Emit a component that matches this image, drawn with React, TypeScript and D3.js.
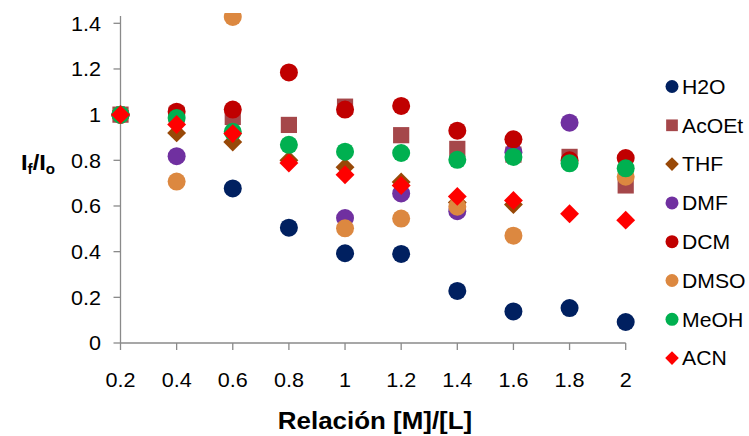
import React from "react";
import * as d3 from "d3";

// x values (Relación [M]/[L])
const ratios = [0.2, 0.4, 0.6, 0.8, 1.0, 1.2, 1.4, 1.6, 1.8, 2.0];

// If/Io per solvent (null = not visible in the picture)
const h2o = [1.0, null, 0.677, 0.505, 0.393, 0.39, 0.228, 0.138, 0.153, 0.092];
const acoet = [1.0, 1.0, 0.99, 0.955, 1.035, 0.91, 0.85, 0.825, 0.815, 0.69];
const thf = [1.0, 0.92, 0.88, 0.8, 0.77, 0.705, 0.615, 0.606, null, null];
const dmf = [1.0, 0.818, null, null, 0.547, 0.655, 0.577, 0.835, 0.965, null];
const dcm = [1.0, 1.013, 1.022, 1.185, 1.022, 1.038, 0.93, 0.892, 0.8, 0.81];
const dmso = [1.0, 0.707, 1.428, null, 0.502, 0.545, 0.597, 0.47, null, 0.728];
const meoh = [1.0, 0.985, 0.925, 0.868, 0.838, 0.832, 0.802, 0.815, 0.787, 0.765];
const acn = [1.0, 0.957, 0.917, 0.788, 0.737, 0.69, 0.642, 0.624, 0.566, 0.538];

const seriesNames = ["H2O", "AcOEt", "THF", "DMF", "DCM", "DMSO", "MeOH", "ACN"];
const seriesValues = [h2o, acoet, thf, dmf, dcm, dmso, meoh, acn];
const seriesColors = ["#002060", "#A5474A", "#984807", "#7030A0", "#C00000", "#DC8840", "#00B050", "#FF0000"];
const seriesShapes = ["circle", "square", "diamond", "circle", "circle", "circle", "circle", "diamond"];

const yTicks = [0, 0.2, 0.4, 0.6, 0.8, 1, 1.2, 1.4];
const xTicks = ratios;

const FONT = "'Liberation Sans', Arial, sans-serif";

// the original text is a bit wider than Liberation Sans, so stretch it a little
const Label = ({ x, y, sx = 1.08, children, ...rest }) => (
  <text transform={`translate(${x},${y}) scale(${sx},1)`} fill="#000" {...rest}>
    {children}
  </text>
);

const Marker = ({ shape, x, y, color, size }) => {
  if (shape === "circle") return <circle cx={x} cy={y} r={size} fill={color} />;
  if (shape === "square")
    return <rect x={x - size * 0.9} y={y - size * 0.9} width={size * 1.8} height={size * 1.8} fill={color} />;
  const s = size * 1.05;
  const p = d3.path();
  p.moveTo(x, y - s);
  p.lineTo(x + s, y);
  p.lineTo(x, y + s);
  p.lineTo(x - s, y);
  p.closePath();
  return <path d={p.toString()} fill={color} />;
};

export default function App() {
  const width = 749;
  const height = 436;

  const x = d3.scaleLinear().domain([0.2, 2]).range([120.5, 625.7]);
  const y = d3.scaleLinear().domain([0, 1.4]).range([343, 23.3]);
  const axisColor = "#8a8a8a";
  const fmt = d3.format("~g");

  const legendY = (i) => 86.5 + i * 38.8;

  return (
    <svg
      width={width}
      height={height}
      style={{ position: "absolute", left: 0, top: 0, background: "#fff" }}
      fontFamily={FONT}
    >
      <defs>
        <clipPath id="plot-clip">
          <rect x={100} y={13} width={560} height={350} />
        </clipPath>
      </defs>

      {/* axes */}
      <line x1={x(0.2)} x2={x(0.2)} y1={y(0)} y2={16} stroke={axisColor} strokeWidth={1.3} />
      <line x1={x(0.2)} x2={x(2)} y1={y(0)} y2={y(0)} stroke={axisColor} strokeWidth={1.3} />
      {yTicks.map((t) => (
        <g key={"y" + t}>
          <line x1={x(0.2) - 7} x2={x(0.2)} y1={y(t)} y2={y(t)} stroke={axisColor} strokeWidth={1.3} />
          <Label x={101} y={y(t)} dy="0.36em" textAnchor="end" fontSize={20}>
            {fmt(t)}
          </Label>
        </g>
      ))}
      {xTicks.map((t) => (
        <g key={"x" + t}>
          <line x1={x(t)} x2={x(t)} y1={y(0)} y2={y(0) + 7} stroke={axisColor} strokeWidth={1.3} />
          <Label x={x(t)} y={387} textAnchor="middle" fontSize={20}>
            {fmt(t)}
          </Label>
        </g>
      ))}

      {/* points */}
      <g clipPath="url(#plot-clip)">
        {seriesValues.map((vals, si) =>
          vals.map((v, i) =>
            v == null ? null : (
              <Marker
                key={si + "-" + i}
                shape={seriesShapes[si]}
                x={x(ratios[i])}
                y={y(v)}
                color={seriesColors[si]}
                size={9}
              />
            )
          )
        )}
      </g>

      {/* axis titles */}
      <Label x={375} y={429} textAnchor="middle" fontSize={24} fontWeight="bold">
        Relación [M]/[L]
      </Label>
      <Label x={21} y={170} fontSize={22} fontWeight="bold">
        I<tspan fontSize={14} dy={4}>f</tspan>
        <tspan dy={-4}>/I</tspan>
        <tspan fontSize={14} dy={4}>o</tspan>
      </Label>

      {/* legend */}
      {seriesNames.map((name, i) => (
        <g key={name}>
          <Marker shape={seriesShapes[i]} x={672} y={legendY(i)} color={seriesColors[i]} size={6.5} />
          <Label x={682} y={legendY(i)} dy="0.36em" fontSize={20} sx={1.06}>
            {name}
          </Label>
        </g>
      ))}
    </svg>
  );
}
